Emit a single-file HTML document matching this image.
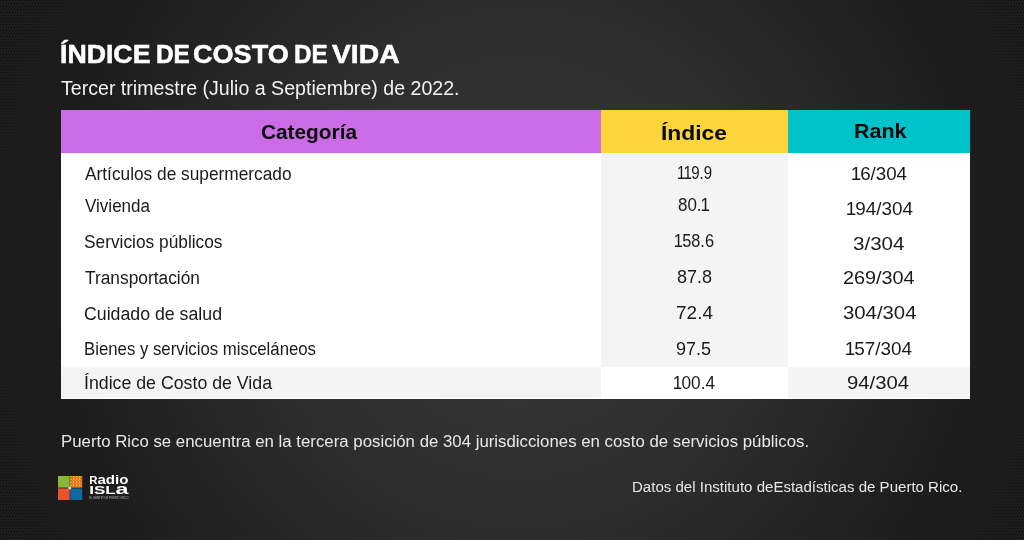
<!DOCTYPE html><html lang="es"><head><meta charset="utf-8"><title>Índice de Costo de Vida</title><style>
*{margin:0;padding:0;box-sizing:border-box}
html,body{width:1024px;height:540px;overflow:hidden;background:#1b1b1b}
body{font-family:"Liberation Sans",sans-serif;position:relative}
#page{position:absolute;left:0;top:0;width:1024px;height:540px;overflow:hidden;
 background:radial-gradient(circle 480px at 520px 268px,#373737 0%,#2f2f2f 48%,#242424 78%,#1c1c1c 100%)}
.t{position:absolute;white-space:nowrap;transform-origin:0 0;display:block}
.cell{position:absolute}
#title{font-size:inherit;font-weight:inherit}
#title span{-webkit-text-stroke:0.55px #fff}
</style></head><body><div id="page"><svg class="cell" style="left:0;top:0" width="1024" height="540" viewBox="0 0 1024 540" aria-hidden="true"><defs><pattern id="dp" width="6" height="6" patternUnits="userSpaceOnUse"><rect x="0" y="0" width="1" height="1" fill="#090909"/><rect x="3" y="0" width="1" height="1" fill="#090909"/><rect x="2" y="3" width="1" height="1" fill="#090909"/><rect x="5" y="3" width="1" height="1" fill="#090909"/></pattern><radialGradient id="mg" gradientUnits="userSpaceOnUse" cx="520" cy="270" r="600"><stop offset="0.835" stop-color="#000"/><stop offset="0.935" stop-color="#fff"/></radialGradient><mask id="mk" maskUnits="userSpaceOnUse" x="0" y="0" width="1024" height="540"><rect width="1024" height="540" fill="url(#mg)"/></mask><pattern id="lp" width="8" height="8" patternUnits="userSpaceOnUse"><rect x="0" y="0" width="1" height="1" fill="#3d3d3d"/><rect x="4" y="0" width="1" height="1" fill="#3d3d3d"/><rect x="2" y="4" width="1" height="1" fill="#3d3d3d"/><rect x="6" y="4" width="1" height="1" fill="#3d3d3d"/></pattern><radialGradient id="lg" gradientUnits="userSpaceOnUse" cx="513" cy="268" r="160"><stop offset="0.8" stop-color="#fff"/><stop offset="0.98" stop-color="#000"/></radialGradient><mask id="lm" maskUnits="userSpaceOnUse" x="0" y="0" width="1024" height="540"><rect width="1024" height="540" fill="url(#lg)"/></mask></defs><rect x="340" y="100" width="350" height="340" fill="url(#lp)" mask="url(#lm)" shape-rendering="crispEdges"/><rect width="1024" height="540" fill="url(#dp)" mask="url(#mk)" style="fill:url(#dp)" color="#0a0a0a" shape-rendering="crispEdges"/></svg>
<div class="cell" style="left:61px;top:110px;width:909px;height:288.5px;background:#fff"></div>
<div class="cell" style="left:61px;top:110px;width:540px;height:43px;background:#cb6ce6"></div>
<div class="cell" style="left:601px;top:110px;width:187.29999999999995px;height:43.3px;background:#fcd53d"></div>
<div class="cell" style="left:788.3px;top:110px;width:181.70000000000005px;height:43px;background:#00c2cb"></div>
<div class="cell" style="left:601px;top:153.3px;width:187.29999999999995px;height:213.89999999999998px;background:#f4f4f4"></div>
<div class="cell" style="left:61px;top:367.2px;width:540px;height:31.30000000000001px;background:#f4f4f4"></div>
<div class="cell" style="left:788.3px;top:367.2px;width:181.70000000000005px;height:31.30000000000001px;background:#f4f4f4"></div>
<h1 id="title">
<span class="t" id="t1" style="left:60.40px;top:40.68px;font-size:26.6px;line-height:26.6px;height:26.6px;font-weight:700;color:#ffffff;transform:scaleX(1.0035)">ÍNDICE</span> 
<span class="t" id="t2" style="left:155.60px;top:40.68px;font-size:26.6px;line-height:26.6px;height:26.6px;font-weight:700;color:#ffffff;transform:scaleX(0.9168)">DE</span> 
<span class="t" id="t3" style="left:193.20px;top:40.68px;font-size:26.6px;line-height:26.6px;height:26.6px;font-weight:700;color:#ffffff;transform:scaleX(1.0179)">COSTO</span> 
<span class="t" id="t4" style="left:293.60px;top:40.68px;font-size:26.6px;line-height:26.6px;height:26.6px;font-weight:700;color:#ffffff;transform:scaleX(0.9142)">DE</span> 
<span class="t" id="t5" style="left:331.80px;top:40.68px;font-size:26.6px;line-height:26.6px;height:26.6px;font-weight:700;color:#ffffff;transform:scaleX(1.0638)">VIDA</span>
</h1>
<p class="t" id="sub" style="left:61.00px;top:78.69px;font-size:19.33px;line-height:19.33px;height:19.33px;font-weight:400;color:#f2f2f2;transform:scaleX(1.0136)">Tercer trimestre (Julio a Septiembre) de 2022.</p>
<div class="t" id="h1" style="left:261.00px;top:122.65px;font-size:19.91px;line-height:19.91px;height:19.91px;font-weight:700;color:#0a0a0a;transform:scaleX(1.0455)">Categoría</div>
<div class="t" id="h2" style="left:661.00px;top:122.46px;font-size:21.08px;line-height:21.08px;height:21.08px;font-weight:700;color:#0a0a0a;transform:scaleX(1.0839)">Índice</div>
<div class="t" id="h3" style="left:853.50px;top:120.46px;font-size:21.08px;line-height:21.08px;height:21.08px;font-weight:700;color:#0a0a0a;transform:scaleX(1.0191)">Rank</div>
<div class="t" id="c1" style="left:85.00px;top:165.66px;font-size:17.88px;line-height:17.88px;height:17.88px;font-weight:400;color:#1a1a1a;transform:scaleX(0.9675)">Artículos de supermercado</div>
<div class="t" id="c2" style="left:85.00px;top:198.21px;font-size:17.88px;line-height:17.88px;height:17.88px;font-weight:400;color:#1a1a1a;transform:scaleX(0.9533)">Vivienda</div>
<div class="t" id="c3" style="left:84.00px;top:234.16px;font-size:17.88px;line-height:17.88px;height:17.88px;font-weight:400;color:#1a1a1a;transform:scaleX(0.9691)">Servicios públicos</div>
<div class="t" id="c4" style="left:85.00px;top:269.66px;font-size:17.88px;line-height:17.88px;height:17.88px;font-weight:400;color:#1a1a1a;transform:scaleX(0.9708)">Transportación</div>
<div class="t" id="c5" style="left:84.00px;top:305.66px;font-size:17.88px;line-height:17.88px;height:17.88px;font-weight:400;color:#1a1a1a;transform:scaleX(0.9928)">Cuidado de salud</div>
<div class="t" id="c6" style="left:84.00px;top:340.66px;font-size:17.88px;line-height:17.88px;height:17.88px;font-weight:400;color:#1a1a1a;transform:scaleX(0.9387)">Bienes y servicios misceláneos</div>
<div class="t" id="c7" style="left:84.00px;top:375.16px;font-size:17.88px;line-height:17.88px;height:17.88px;font-weight:400;color:#1a1a1a;transform:scaleX(0.9931)">Índice de Costo de Vida</div>
<div class="t" id="i1" style="left:678.00px;top:163.55px;font-size:18.31px;line-height:18.31px;height:18.31px;font-weight:400;color:#1a1a1a;transform:scaleX(0.8207)"><span style="margin:0 -0.05em 0 -0.07em">1</span><span style="margin:0 -0.05em 0 -0.07em">1</span>9.9</div>
<div class="t" id="i2" style="left:678.00px;top:196.30px;font-size:18.31px;line-height:18.31px;height:18.31px;font-weight:400;color:#1a1a1a;transform:scaleX(0.9274)">80.<span style="margin:0 -0.05em 0 -0.07em">1</span></div>
<div class="t" id="i3" style="left:675.00px;top:232.05px;font-size:18.31px;line-height:18.31px;height:18.31px;font-weight:400;color:#1a1a1a;transform:scaleX(0.8940)"><span style="margin:0 -0.05em 0 -0.07em">1</span>58.6</div>
<div class="t" id="i4" style="left:677.00px;top:267.80px;font-size:18.31px;line-height:18.31px;height:18.31px;font-weight:400;color:#1a1a1a;transform:scaleX(0.9861)">87.8</div>
<div class="t" id="i5" style="left:675.50px;top:304.05px;font-size:18.31px;line-height:18.31px;height:18.31px;font-weight:400;color:#1a1a1a;transform:scaleX(1.0394)">72.4</div>
<div class="t" id="i6" style="left:676.00px;top:340.30px;font-size:18.31px;line-height:18.31px;height:18.31px;font-weight:400;color:#1a1a1a;transform:scaleX(0.9844)">97.5</div>
<div class="t" id="i7" style="left:674.00px;top:374.30px;font-size:18.31px;line-height:18.31px;height:18.31px;font-weight:400;color:#1a1a1a;transform:scaleX(0.9400)"><span style="margin:0 -0.05em 0 -0.07em">1</span>00.4</div>
<div class="t" id="r1" style="left:851.50px;top:164.80px;font-size:18.31px;line-height:18.31px;height:18.31px;font-weight:400;color:#1a1a1a;transform:scaleX(1.0225)"><span style="margin:0 -0.05em 0 -0.07em">1</span>6/304</div>
<div class="t" id="r2" style="left:846.50px;top:200.05px;font-size:18.31px;line-height:18.31px;height:18.31px;font-weight:400;color:#1a1a1a;transform:scaleX(1.0318)"><span style="margin:0 -0.05em 0 -0.07em">1</span>94/304</div>
<div class="t" id="r3" style="left:853.20px;top:235.30px;font-size:18.31px;line-height:18.31px;height:18.31px;font-weight:400;color:#1a1a1a;transform:scaleX(1.1230)">3/304</div>
<div class="t" id="r4" style="left:843.00px;top:268.60px;font-size:18.31px;line-height:18.31px;height:18.31px;font-weight:400;color:#1a1a1a;transform:scaleX(1.0829)">269/304</div>
<div class="t" id="r5" style="left:842.60px;top:304.30px;font-size:18.31px;line-height:18.31px;height:18.31px;font-weight:400;color:#1a1a1a;transform:scaleX(1.1104)">304/304</div>
<div class="t" id="r6" style="left:846.00px;top:340.30px;font-size:18.31px;line-height:18.31px;height:18.31px;font-weight:400;color:#1a1a1a;transform:scaleX(1.0318)"><span style="margin:0 -0.05em 0 -0.07em">1</span>57/304</div>
<div class="t" id="r7" style="left:847.00px;top:374.30px;font-size:18.31px;line-height:18.31px;height:18.31px;font-weight:400;color:#1a1a1a;transform:scaleX(1.1081)">94/304</div>
<p class="t" id="foot" style="left:60.50px;top:433.24px;font-size:17.08px;line-height:17.08px;height:17.08px;font-weight:400;color:#e8e8e8;transform:scaleX(0.9838)">Puerto Rico se encuentra en la tercera posición de 304 jurisdicciones en costo de servicios públicos.</p>
<p class="t" id="src" style="left:631.60px;top:478.78px;font-size:15.26px;line-height:15.26px;height:15.26px;font-weight:400;color:#e8e8e8;transform:scaleX(0.9868)">Datos del Instituto deEstadísticas de Puerto Rico.</p>
<svg id="logo" class="cell" style="left:54px;top:470px;will-change:transform" width="84" height="36" viewBox="54 470 84 36" role="img" aria-label="Radio Isla">
<defs><pattern id="wv" x="70" y="476" width="3" height="3" patternUnits="userSpaceOnUse"><rect width="3" height="3" fill="#e4572a"/><path d="M0 0.6H1.9M0.6 1.6V3M2.2 1.8H3" stroke="#f8c930" stroke-width="0.9" fill="none"/></pattern></defs>
<rect x="58" y="476" width="11.7" height="11.6" fill="#8ab53c"/>
<rect x="70.2" y="476" width="12" height="11.6" fill="url(#wv)"/>
<rect x="58" y="488.4" width="11.7" height="11.6" fill="#e6532d"/>
<rect x="70.2" y="488.4" width="12" height="11.6" fill="#0d6a9e"/>
<circle cx="69.8" cy="487.9" r="1.5" fill="#e6dfc8"/>
<g font-family="'Liberation Sans',sans-serif" font-weight="700" fill="#fff">
<text x="89.2" y="484" textLength="39.3" lengthAdjust="spacingAndGlyphs"><tspan font-size="10.2">R</tspan><tspan font-size="13.5">adio</tspan></text>
<text x="89.2" y="493.7" textLength="39.3" lengthAdjust="spacingAndGlyphs"><tspan font-size="10.5">ISL</tspan><tspan font-size="14.4">a</tspan></text>
<text x="89.2" y="499.2" font-size="2.9" font-weight="400" fill="#bdbdbd" textLength="39.3" lengthAdjust="spacingAndGlyphs">EL SENTIR DE PUERTO RICO</text>
</g>
</svg>

</div></body></html>
